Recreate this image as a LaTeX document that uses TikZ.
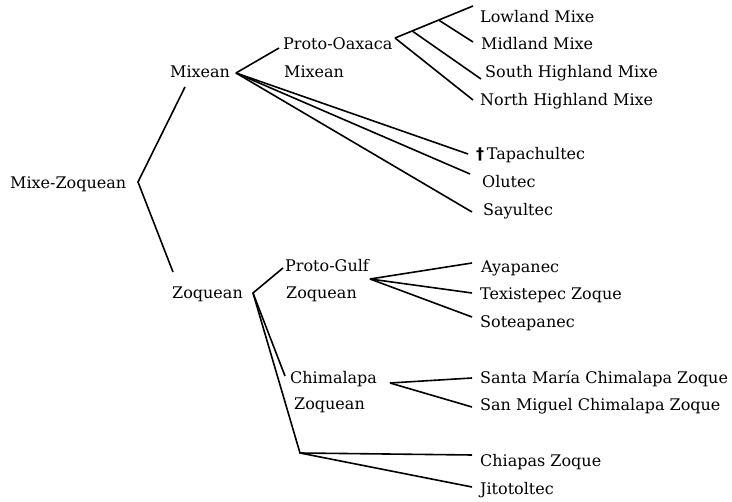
\documentclass[tikz,border=0pt]{standalone}
\usepackage{fontspec}
\setmainfont{DejaVu Serif}
\newfontfamily\daggerfont{DejaVu Sans}
\usetikzlibrary{calc}
\begin{document}
\begin{tikzpicture}[x=1pt,y=-1pt,
  lbl/.style={font=\fontsize{16}{19}\selectfont, inner sep=0pt, anchor=base west},
  br/.style={line width=1.6pt}]
\useasboundingbox (0,0) rectangle (732,502);
% labels
\node[lbl] (mz) at (10,189) {Mixe-Zoquean};
\node[lbl] (mixean) at (170,78) {Mixean};
\node[lbl] (po1) at (283,50) {Proto-Oaxaca};
\node[lbl] (po2) at (284,78) {Mixean};
\node[lbl] (lowland) at (480,23) {Lowland Mixe};
\node[lbl] (midland) at (481,50) {Midland Mixe};
\node[lbl] (south) at (485,78) {South Highland Mixe};
\node[lbl] (north) at (480,106) {North Highland Mixe};
\node[lbl] (tap) at (476,160) {{\daggerfont\bfseries †}\,Tapachultec};
\node[lbl] (olutec) at (482,188) {Olutec};
\node[lbl] (sayultec) at (483,216) {Sayultec};
\node[lbl] (zoquean) at (172,299) {Zoquean};
\node[lbl] (pg1) at (285,272) {Proto-Gulf};
\node[lbl] (pg2) at (286,299) {Zoquean};
\node[lbl] (ch1) at (290,384) {Chimalapa};
\node[lbl] (ch2) at (294,410) {Zoquean};
\node[lbl] (ayapanec) at (481,273) {Ayapanec};
\node[lbl] (texistepec) at (480,300) {Texistepec Zoque};
\node[lbl] (soteapanec) at (480,328) {Soteapanec};
\node[lbl] (santa) at (480,384) {Santa María Chimalapa Zoque};
\node[lbl] (sanmiguel) at (480,411) {San Miguel Chimalapa Zoque};
\node[lbl] (chiapas) at (480,467) {Chiapas Zoque};
\node[lbl] (jitotoltec) at (480,495) {Jitotoltec};
% branch points and line ends
\coordinate (mzB) at (138,182);
\coordinate (mixeanE) at (185,87);
\coordinate (zoqueanE) at (173,272);
\coordinate (mxB) at (236,73);
\coordinate (poE) at (279,48);
\coordinate (poB) at (395,38);
\coordinate (lowE) at (473,6);
\coordinate (b1) at ($(poB)!0.22!(lowE)$);
\coordinate (b2) at ($(poB)!0.56!(lowE)$);
\coordinate (southE) at (481,79);
\coordinate (midE) at (473,42);
\coordinate (northE) at (473,100);
\coordinate (tapE) at (468,154);
\coordinate (oluE) at (470,174);
\coordinate (sayE) at (472,212);
\coordinate (zqB) at (253,293);
\coordinate (pgE) at (283,268);
\coordinate (chE) at (285,376);
\coordinate (lowB) at (300,453);
\coordinate (pgB) at (370,279);
\coordinate (ayE) at (472,263);
\coordinate (txE) at (472,293);
\coordinate (soE) at (472,317);
\coordinate (chB) at (390,383);
\coordinate (saE) at (472,378);
\coordinate (smE) at (472,407);
\coordinate (cjE) at (472,455);
\coordinate (jiE) at (472,487);
% connectors
\draw[br] (mixeanE) -- (mzB) -- (zoqueanE);
\draw[br] (poE) -- (mxB);
\draw[br] (mxB) -- (tapE);
\draw[br] (mxB) -- (oluE);
\draw[br] (mxB) -- (sayE);
\draw[br] (poB) -- (lowE);
\draw[br] (b2) -- (midE);
\draw[br] (b1) -- (southE);
\draw[br] (poB) -- (northE);
\draw[br] (pgE) -- (zqB) -- (lowB) -- (cjE);
\draw[br] (zqB) -- (chE);
\draw[br] (lowB) -- (jiE);
\draw[br] (pgB) -- (ayE);
\draw[br] (pgB) -- (txE);
\draw[br] (pgB) -- (soE);
\draw[br] (chB) -- (saE);
\draw[br] (chB) -- (smE);
\end{tikzpicture}
\end{document}
